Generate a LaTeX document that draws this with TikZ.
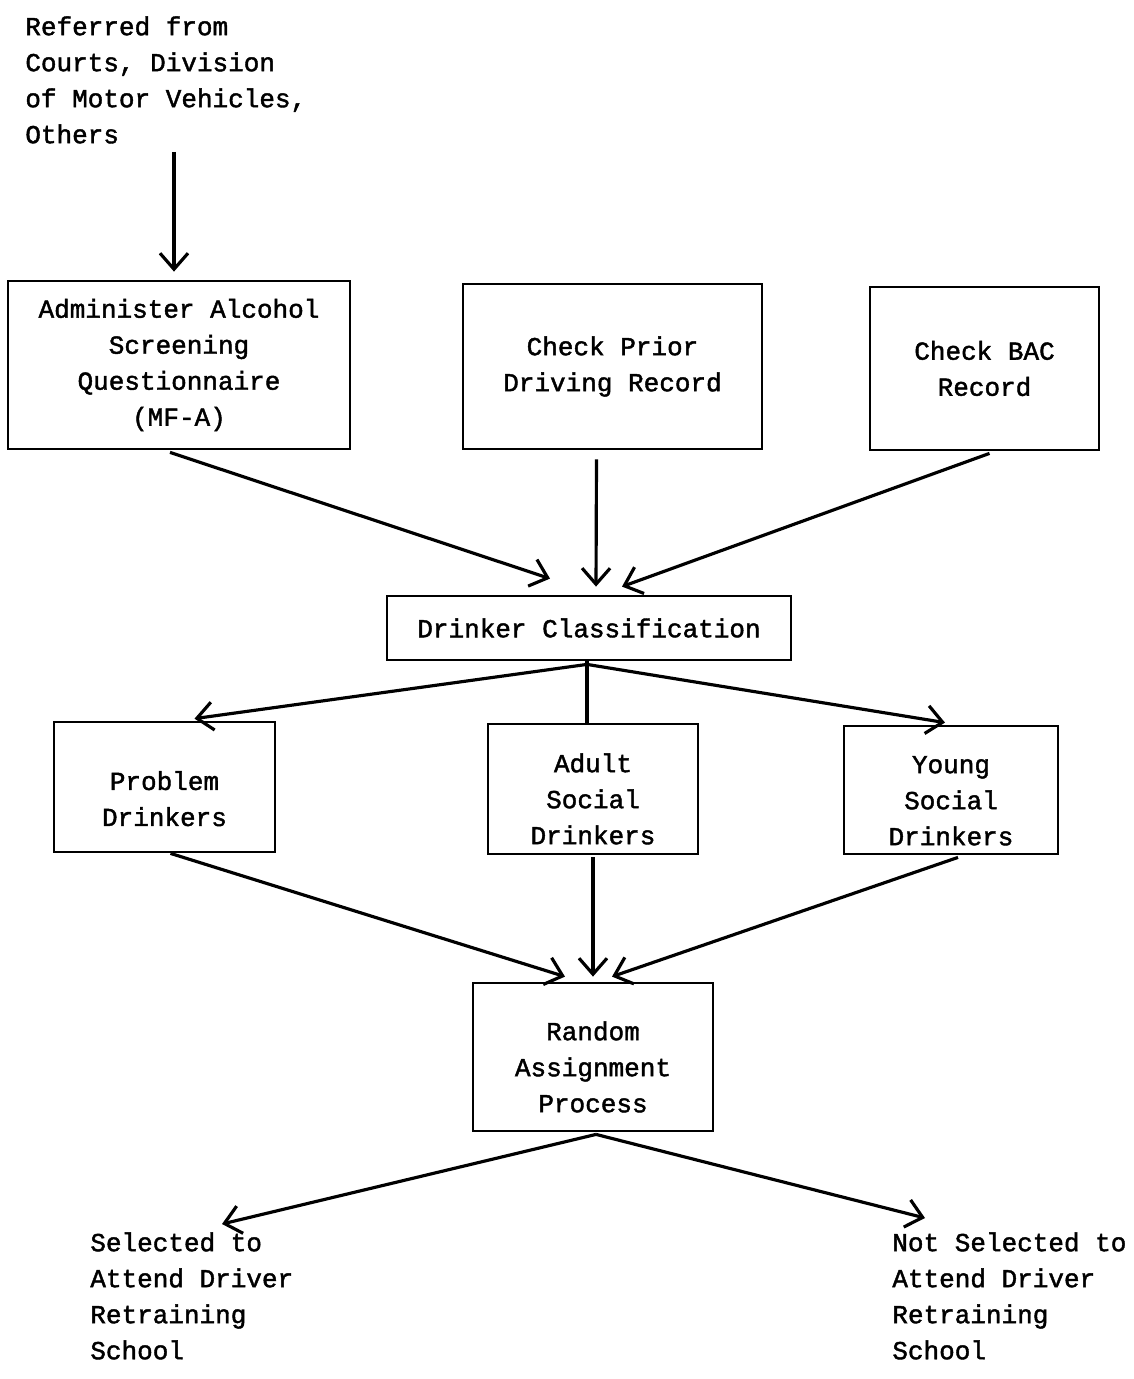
\documentclass[tikz,border=0pt]{standalone}
\usepackage{fontspec}
\setmainfont{Liberation Mono}[FakeBold=1.6]
\usetikzlibrary{arrows.meta,calc}
\begin{document}
\begin{tikzpicture}[x=0.02cm,y=-0.02cm,
  every node/.style={font=\fontsize{14.8}{20.5}\selectfont},
  box/.style={draw,line width=1.6pt,align=center,inner sep=0pt},
  lbl/.style={align=left,inner sep=0pt,anchor=north west},
  arr/.style={line width=1.8pt,-{Straight Barb[length=0.32cm,width=0.56cm,line width=1.8pt]}},
  ln/.style={line width=1.8pt}]
\useasboundingbox (0,0) rectangle (1133,1379);
\node[lbl] (T) at (25,16) {Referred from\\Courts, Division\\of Motor Vehicles,\\Others};
\node[box,minimum width=6.84cm,minimum height=3.36cm] (A) at (179,365) {\raisebox{-3pt}{}Administer Alcohol\\Screening\\Questionnaire\\(MF-A)};
\node[box,minimum width=5.98cm,minimum height=3.3cm] (B) at (612.5,366.5) {Check Prior\\Driving Record};
\node[box,minimum width=4.58cm,minimum height=3.26cm] (C) at (984.5,368.5) {Check BAC\\Record};
\node[box,minimum width=8.08cm,minimum height=1.28cm] (D) at (589,628) {Drinker Classification};
\node[box,minimum width=4.42cm,minimum height=2.6cm] (P) at (164.5,787) {\rule{0pt}{24pt}Problem\\Drinkers};
\node[box,minimum width=4.2cm,minimum height=2.6cm] (S) at (593,789) {\rule{0pt}{22pt}Adult\\Social\\Drinkers};
\node[box,minimum width=4.28cm,minimum height=2.56cm] (Y) at (951,790) {\rule{0pt}{22pt}Young\\Social\\Drinkers};
\node[box,minimum width=4.8cm,minimum height=2.96cm] (R) at (593,1057) {\rule{0pt}{22pt}Random\\Assignment\\Process};
\node[lbl] (Sel) at (90,1232) {Selected to\\Attend Driver\\Retraining\\School};
\node[lbl] (Not) at (892,1232) {Not Selected to\\Attend Driver\\Retraining\\School};
% connectors
\draw[arr,shorten >=0.16cm] ($(T.south -| A.north)+(-5,8)$) -- ($(A.north)+(-5,0)$);
\draw[arr] ($(A.south)+(-9,2)$) -- ($(D.north)+(-39,-16)$);
\draw[arr] ($(B.south)+(-16,9)$) -- ($(D.north)+(7,-8)$);
\draw[arr] ($(C.south)+(5,2)$) -- ($(D.north)+(33,-8)$);
\draw[arr] ($(D.south)+(-2,3)$) -- ($(P.north)+(30,-2)$);
\draw[ln] ($(D.south)+(-2,0)$) -- ($(D.south |- S.north)+(-2,0)$);
\draw[arr] ($(D.south)+(-2,3)$) -- ($(Y.north)+(-6,-2)$);
\draw[arr] ($(P.south)+(6,0)$) -- ($(R.north)+(-28,-5)$);
\draw[arr] ($(S.south)+(0,2)$) -- ($(R.north)+(0,-5)$);
\draw[arr] ($(Y.south)+(7,2)$) -- ($(R.north)+(19,-5)$);
\draw[arr] ($(R.south)+(3,2)$) -- ($(Sel.north west)+(132,-8)$);
\draw[arr] ($(R.south)+(3,2)$) -- ($(Not.north west)+(33,-14)$);
\end{tikzpicture}
\end{document}
